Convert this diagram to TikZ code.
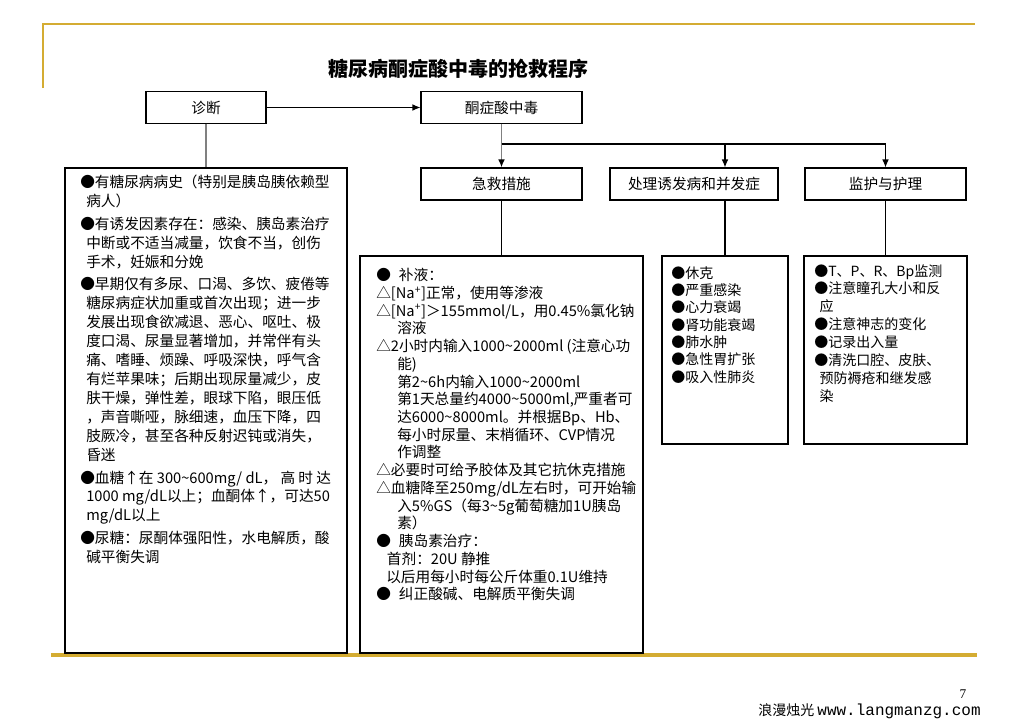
\documentclass[tikz,border=0pt]{standalone}
\usepackage{fontspec}
\setmainfont{Noto Sans CJK SC}
\newfontfamily\urlfont{Liberation Mono}
\newfontfamily\numfont{Liberation Serif}
\usetikzlibrary{arrows.meta}
\definecolor{goldline}{RGB}{212,172,50}
\newcommand{\wave}{\textasciitilde}
\newcommand{\nap}{[Na\textsuperscript{+}]}
\begin{document}
\begin{tikzpicture}[x=0.75pt, y=-0.75pt,
  head/.style={draw, line width=0.8pt, minimum height=23.5pt, inner sep=0pt,
               font=\fontsize{11}{13}\selectfont},
  panel/.style={draw, line width=0.8pt, inner sep=0pt},
  txt/.style={align=left, inner sep=0pt, anchor=north west},
  arr/.style={-{Latex[length=6pt,width=5pt]}, line width=0.8pt},
  link/.style={line width=0.8pt},
  stem/.style={line width=1.3pt, gray},
  gold/.style={goldline, line width=2pt}
]
  \useasboundingbox (0,0) rectangle (1028,728);
  % frame lines
  \draw[gold] (43,88) -- (43,24) -- (975,24);
  \draw[gold, line width=2.5pt] (51,655) -- (977,655);

  \node[font=\fontsize{15}{18}\bfseries\selectfont] (title) at (458.5,69) {糖尿病酮症酸中毒的抢救程序};

  % header boxes
  \node[head, minimum width=90pt]     (diag)    at (206,107.5)   {诊断};
  \node[head, minimum width=120.75pt] (ketone)  at (501.5,107.5) {酮症酸中毒};
  \node[head, minimum width=120.75pt, minimum height=24pt] (rescue)  at (501.5,184) {急救措施};
  \node[head, minimum width=126pt,    minimum height=24pt] (treat)   at (694,184)   {处理诱发病和并发症};
  \node[head, minimum width=120.75pt, minimum height=24pt] (monitor) at (885.5,184) {监护与护理};

  % detail panels
  \node[panel, minimum width=211.5pt,  minimum height=363.75pt] (symp)  at (206,410.5)   {};
  \node[panel, minimum width=212.25pt, minimum height=297.75pt] (fluid) at (501.5,454.5) {};
  \node[panel, minimum width=94.5pt,   minimum height=141pt]    (compl) at (725,350)     {};
  \node[panel, minimum width=122.25pt, minimum height=141pt]    (care)  at (885.5,350)   {};

  % connectors
  \draw[arr] (diag.east) -- (ketone.west);
  \draw[stem] (diag.south) -- (symp.north);
  \coordinate (hub) at (501.5,144);
  \draw[stem, -{Latex[length=6pt,width=5pt,black]}] (ketone.south) -- (rescue.north);
  \draw[link] (hub) -- (hub -| care.north);
  \foreach \h/\p in {treat/compl, monitor/care} {
    \draw[arr] (hub -| \p.north) -- (\h.north -| \p.north);
    \draw[link] (\h.south -| \p.north) -- (\p.north);
  }
  \draw[link] (rescue.south) -- (fluid.north);

  % panel texts
  \node[txt, font=\fontsize{11}{14.2}\selectfont] (symptxt) at (80,175) {%
    ●有糖尿病病史（特别是胰岛胰依赖型\\
    \hspace*{4.5pt}病人）\\[2.8pt]
    ●有诱发因素存在：感染、胰岛素治疗\\
    \hspace*{4.5pt}中断或不适当减量，饮食不当，创伤\\
    \hspace*{4.5pt}手术，妊娠和分娩\\[2.8pt]
    ●早期仅有多尿、口渴、多饮、疲倦等\\
    \hspace*{4.5pt}糖尿病症状加重或首次出现；进一步\\
    \hspace*{4.5pt}发展出现食欲减退、恶心、呕吐、极\\
    \hspace*{4.5pt}度口渴、尿量显著增加，并常伴有头\\
    \hspace*{4.5pt}痛、嗜睡、烦躁、呼吸深快，呼气含\\
    \hspace*{4.5pt}有烂苹果味；后期出现尿量减少，皮\\
    \hspace*{4.5pt}肤干燥，弹性差，眼球下陷，眼压低\\
    \hspace*{4.5pt}，声音嘶哑，脉细速，血压下降，四\\
    \hspace*{4.5pt}肢厥冷，甚至各种反射迟钝或消失，\\
    \hspace*{4.5pt}昏迷\\[2.8pt]
    ●血糖↑在 300\wave600mg/ dL， 高 时 达\\
    \hspace*{4.5pt}1000 mg/dL以上；血酮体↑，可达50\\
    \hspace*{4.5pt}mg/dL以上\\[2.8pt]
    ●尿糖：尿酮体强阳性，水电解质，酸\\
    \hspace*{4.5pt}碱平衡失调};

  \node[txt, font=\fontsize{11}{13.3}\selectfont] (fluidtxt) at (376,268) {%
    ●\hspace*{6pt}补液：\\
    △\nap 正常，使用等渗液\\
    △\nap ＞155mmol/L，用0.45\%氯化钠\\
    \hspace*{15.75pt}溶液\\
    △2小时内输入1000\wave2000ml (注意心功\\
    \hspace*{15.75pt}能)\\
    \hspace*{15.75pt}第2\wave6h内输入1000\wave2000ml\\
    \hspace*{15.75pt}第1天总量约4000\wave5000ml,严重者可\\
    \hspace*{15.75pt}达6000\wave8000ml。并根据Bp、Hb、\\
    \hspace*{15.75pt}每小时尿量、末梢循环、CVP情况\\
    \hspace*{15.75pt}作调整\\
    △必要时可给予胶体及其它抗休克措施\\
    △血糖降至250mg/dL左右时，可开始输\\
    \hspace*{15.75pt}入5\%GS（每3\wave5g葡萄糖加1U胰岛\\
    \hspace*{15.75pt}素）\\
    ●\hspace*{6pt}胰岛素治疗：\\
    \hspace*{8pt}首剂：20U 静推\\
    \hspace*{7.5pt}以后用每小时每公斤体重0.1U维持\\
    ●\hspace*{6pt}纠正酸碱、电解质平衡失调};

  \node[txt, font=\fontsize{10.5}{13}\selectfont] (compltxt) at (671,266) {%
    ●休克\\
    ●严重感染\\
    ●心力衰竭\\
    ●肾功能衰竭\\
    ●肺水肿\\
    ●急性胃扩张\\
    ●吸入性肺炎};

  \node[txt, font=\fontsize{10.5}{13.4}\selectfont] (caretxt) at (814,264) {%
    ●T、P、R、Bp监测\\
    ●注意瞳孔大小和反\\
    \hspace*{4pt}应\\
    ●注意神志的变化\\
    ●记录出入量\\
    ●清洗口腔、皮肤、\\
    \hspace*{4pt}预防褥疮和继发感\\
    \hspace*{4pt}染};

  % footer
  \node[anchor=base west, inner sep=0pt, font=\fontsize{10.5}{12}\selectfont] (site) at (758,715)
    {浪漫烛光 {\urlfont\fontsize{12}{12}\selectfont www.langmanzg.com}};
  \node[font=\numfont\fontsize{10}{12}\selectfont] (pageno) at (963,694) {7};
\end{tikzpicture}
\end{document}
